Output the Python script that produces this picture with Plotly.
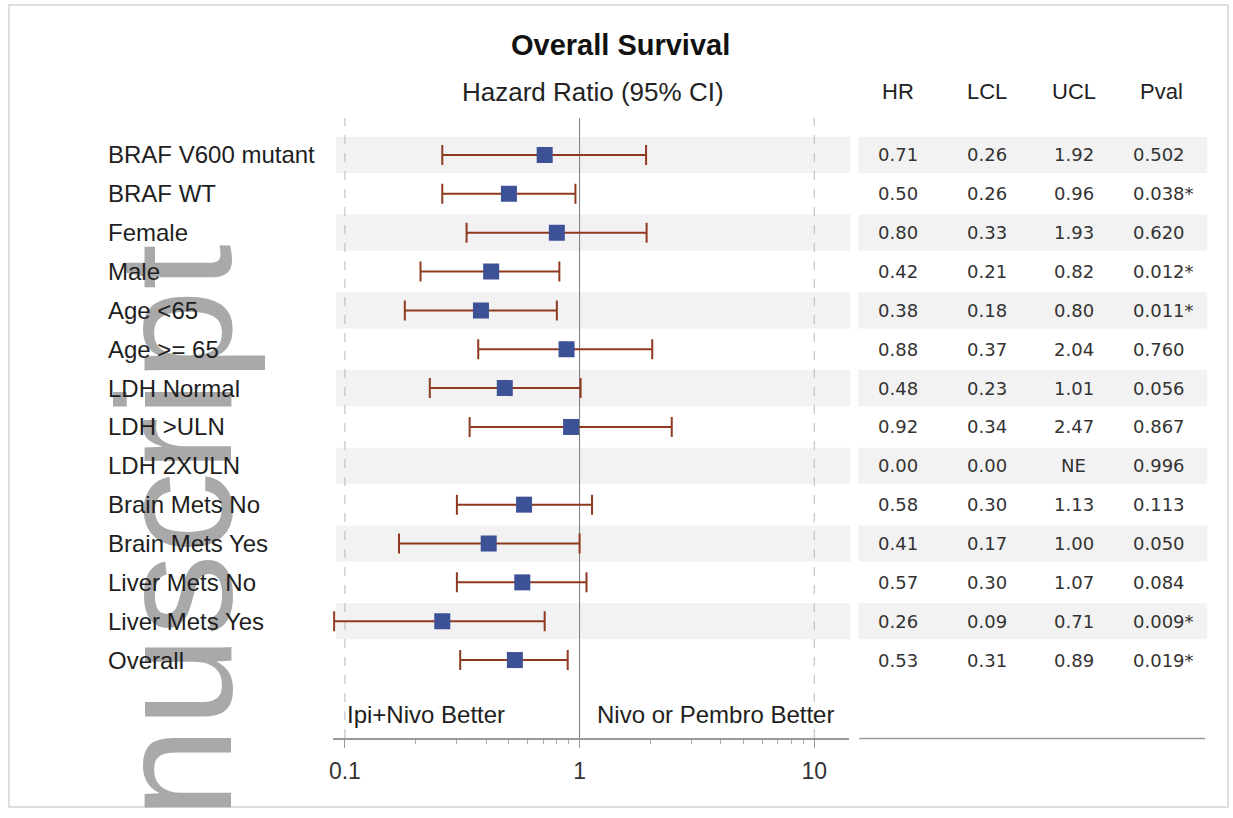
import plotly.graph_objects as go

# ---- data -------------------------------------------------------------
subgroups = ["BRAF V600 mutant", "BRAF WT", "Female", "Male", "Age <65", "Age >= 65",
             "LDH Normal", "LDH >ULN", "LDH 2XULN", "Brain Mets No", "Brain Mets Yes",
             "Liver Mets No", "Liver Mets Yes", "Overall"]
hr = [0.71, 0.50, 0.80, 0.42, 0.38, 0.88, 0.48, 0.92, 0.00, 0.58, 0.41, 0.57, 0.26, 0.53]
lcl = [0.26, 0.26, 0.33, 0.21, 0.18, 0.37, 0.23, 0.34, 0.00, 0.30, 0.17, 0.30, 0.09, 0.31]
ucl = [1.92, 0.96, 1.93, 0.82, 0.80, 2.04, 1.01, 2.47, None, 1.13, 1.00, 1.07, 0.71, 0.89]
pval = ["0.502", "0.038*", "0.620", "0.012*", "0.011*", "0.760", "0.056", "0.867",
        "0.996", "0.113", "0.050", "0.084", "0.009*", "0.019*"]
table_cols = ["HR", "LCL", "UCL", "Pval"]
x_ticks = [0.1, 1, 10]
x_tick_text = ["0.1", "1", "10"]
minor_ticks = [0.2, 0.3, 0.4, 0.5, 0.6, 0.7, 0.8, 0.9, 2, 3, 4, 5, 6, 7, 8, 9]

# ---- canvas helpers (pixel -> paper) -----------------------------------
W, H = 1233, 818
def px(x):
    return x / W
def py(y):
    return 1 - y / H

ARIAL = "Liberation Sans, Arial, sans-serif"
DEJAVU = "DejaVu Sans, sans-serif"

rows = list(range(len(subgroups)))
# rows with an estimable ratio are drawn; others stay blank
plot_rows = [r for r in rows if hr[r] > 0 and ucl[r] is not None]

fig = go.Figure()
fig.add_trace(go.Scatter(
    x=[hr[r] for r in plot_rows],
    y=[r for r in plot_rows],
    mode="markers",
    marker=dict(symbol="square", size=16, color="#3d5196"),
    error_x=dict(type="data", symmetric=False,
                 array=[ucl[r] - hr[r] for r in plot_rows],
                 arrayminus=[hr[r] - lcl[r] for r in plot_rows],
                 color="#8e3a20", thickness=2, width=10),
    hoverinfo="skip", showlegend=False,
))

shapes = []
# alternating row bands in the plot and the table
for r in rows:
    if r % 2 == 0:
        for x0, x1 in ((333, 849), (857, 1207)):
            shapes.append(dict(type="rect", xref="paper", yref="y",
                               x0=px(x0), x1=px(x1), y0=r - 0.465, y1=r + 0.465,
                               fillcolor="#f2f2f2", line=dict(width=0), layer="below"))
# reference lines
for xv, dash, col in ((0.1, "dash", "#b8b8b8"), (10, "dash", "#b8b8b8"), (1, "solid", "#7a7a7a")):
    shapes.append(dict(type="line", xref="x", yref="paper", x0=xv, x1=xv,
                       y0=py(738), y1=py(118), line=dict(color=col, width=1, dash=dash),
                       layer="below"))
# rule under the statistics table
shapes.append(dict(type="line", xref="paper", yref="paper", x0=px(858), x1=px(1205),
                   y0=py(738.5), y1=py(738.5), line=dict(color="#9a9a9a", width=1.5)))
# outer frame
shapes.append(dict(type="rect", xref="paper", yref="paper", x0=px(5), x1=px(1228),
                   y0=py(807), y1=py(5), line=dict(color="#d4d4d4", width=1.5),
                   fillcolor="rgba(0,0,0,0)", layer="below"))


def note(text, x, y, size, family=ARIAL, color="#1e1e1e", xanchor="center", yref="paper", **kw):
    return dict(text=text, x=x, y=y, xref="paper", yref=yref, showarrow=False,
                xanchor=xanchor, yanchor="middle",
                font=dict(family=family, size=size, color=color), **kw)


ann = []
# large rotated gray wordmark
ann.append(note("nuscript", px(171), py(531), 164, color="#a9a9a9", textangle=-90))
ann.append(note("<b>Overall Survival</b>", px(619), py(45), 29, color="#111111"))
ann.append(note("Hazard Ratio (95% CI)", px(591), py(92), 26, color="#222222"))
col_x = [897, 986, 1073, 1161]
for name, cx in zip(table_cols, col_x):
    ann.append(note(name, px(cx), py(92), 22, color="#222222"))
for r in rows:
    ann.append(note(subgroups[r], px(102), r, 24, xanchor="left", yref="y"))
    vals = [f"{hr[r]:.2f}", f"{lcl[r]:.2f}", "NE" if ucl[r] is None else f"{ucl[r]:.2f}"]
    for v, cx in zip(vals, col_x[:3]):
        ann.append(note(v, px(cx), r, 18, family=DEJAVU, color="#333333", yref="y"))
    ann.append(note(pval[r], px(1131), r, 18, family=DEJAVU, color="#333333",
                    xanchor="left", yref="y"))
ann.append(note("Ipi+Nivo Better", px(342), py(714), 24, xanchor="left"))
ann.append(note("Nivo or Pembro Better", px(593), py(714), 24, xanchor="left"))

fig.update_layout(
    width=W, height=H,
    margin=dict(l=0, r=0, t=0, b=0),
    paper_bgcolor="white", plot_bgcolor="white",
    shapes=shapes, annotations=ann,
    xaxis=dict(type="log", range=[-1.051, 1.149], domain=[px(330), px(848)],
               showgrid=False, zeroline=False, showline=True, linecolor="#999999", linewidth=1.5,
               ticks="outside", ticklen=8, tickwidth=1, tickcolor="#999999",
               tickvals=x_ticks, ticktext=x_tick_text,
               tickfont=dict(family=ARIAL, size=23, color="#333333"),
               ticklabelstandoff=4,
               minor=dict(ticks="outside", ticklen=4, tickcolor="#aaaaaa", tickvals=minor_ticks,
                          showgrid=False),
               fixedrange=True),
    yaxis=dict(range=[15.006, -0.952], domain=[py(738), py(118)], visible=False,
               fixedrange=True),
)

fig.write_html("out.html")
